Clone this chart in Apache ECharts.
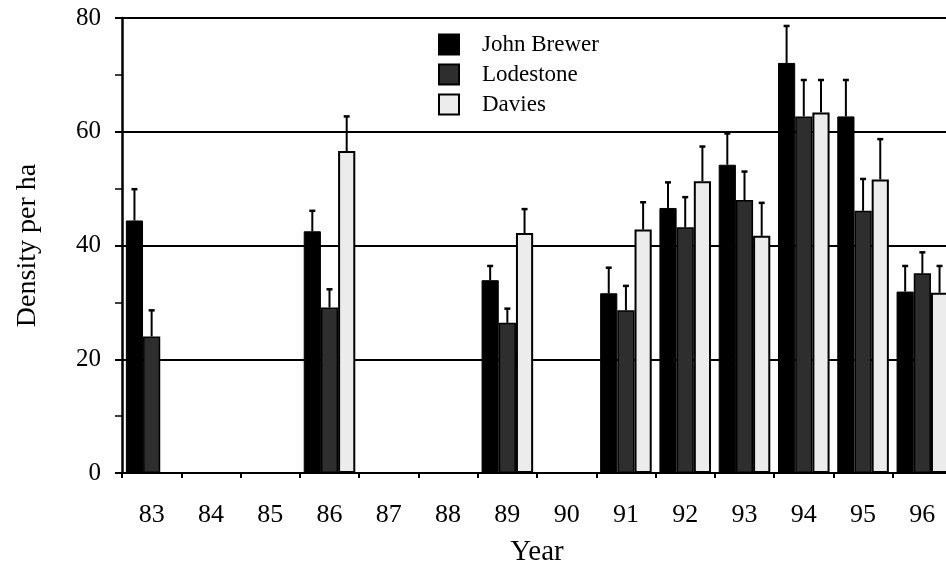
<!DOCTYPE html>
<html>
<head>
<meta charset="utf-8">
<style>
  html, body { margin: 0; padding: 0; background: #fff; }
  #chart { width: 946px; height: 567px; }
</style>
<script src="https://cdn.jsdelivr.net/npm/echarts@6/dist/echarts.min.js"></script>
</head>
<body>
<div id="chart"></div>
<script>
// 数据
var years = ['83', '84', '85', '86', '87', '88', '89', '90', '91', '92', '93', '94', '95', '96'];
var seriesNames = ['John Brewer', 'Lodestone', 'Davies'];

var brewer      = [44.4, null, null, 42.5, null, null, 33.9, null, 31.6, 46.6, 54.2, 72.1, 62.7, 31.9];
var brewerUp    = [49.9, null, null, 46.1, null, null, 36.4, null, 36.1, 51.1, 59.7, 78.6, 69.1, 36.4];
var lodestone   = [24.0, null, null, 29.1, null, null, 26.4, null, 28.6, 43.2, 48.0, 62.7, 46.1, 35.1];
var lodestoneUp = [28.6, null, null, 32.3, null, null, 28.9, null, 32.9, 48.5, 53.0, 69.1, 51.7, 38.8];
var davies      = [null, null, null, 56.6, null, null, 42.2, null, 42.8, 51.3, 41.7, 63.4, 51.6, 31.7];
var daviesUp    = [null, null, null, 62.7, null, null, 46.4, null, 47.6, 57.4, 47.5, 69.1, 58.7, 36.4];

var yTicks = [0, 20, 40, 60, 80];

var FONT = 'Liberation Serif';
var BAR_W = 0.29; // 占类目宽度比例

var myChart = echarts.init(document.getElementById('chart'));

function errData(vals, ups) {
    var out = [];
    for (var i = 0; i < vals.length; i++) {
        if (vals[i] != null && ups[i] != null) out.push([i, vals[i], ups[i]]);
    }
    return out;
}

// 误差线（只画上半部分）
function errSeries(name, vals, ups, k) {
    return {
        name: name + ' err',
        type: 'custom',
        z: 5,
        silent: true,
        data: errData(vals, ups),
        encode: { x: 0, y: [1, 2] },
        renderItem: function (params, api) {
            var bw = api.size([1, 0])[0] * BAR_W;
            var p0 = api.coord([api.value(0), api.value(1)]);
            var p1 = api.coord([api.value(0), api.value(2)]);
            var x = p0[0] + (k - 1) * bw;
            return {
                type: 'group',
                children: [
                    { type: 'line', shape: { x1: x, y1: p0[1], x2: x, y2: p1[1] },
                      style: { stroke: '#000', lineWidth: 2 } },
                    { type: 'line', shape: { x1: x - 3, y1: p1[1], x2: x + 3, y2: p1[1] },
                      style: { stroke: '#000', lineWidth: 2.5 } }
                ]
            };
        }
    };
}

var option = {
    animation: false,
    backgroundColor: '#fff',
    grid: { left: 122, right: -6, top: 18, bottom: 94, outerBoundsMode: 'none' },
    legend: {
        orient: 'vertical',
        left: 438,
        top: 33,
        padding: 0,
        itemWidth: 20,
        itemHeight: 20,
        itemGap: 7,
        icon: 'rect',
        data: seriesNames,
        textStyle: { fontFamily: FONT, fontSize: 23, color: '#000', padding: [0, 0, 0, 18] }
    },
    xAxis: {
        type: 'category',
        data: years,
        name: 'Year',
        nameLocation: 'middle',
        nameGap: 65,
        nameTextStyle: { fontFamily: FONT, fontSize: 29, color: '#000' },
        axisLine: { lineStyle: { color: '#000', width: 2 } },
        axisTick: { show: true, length: 5, lineStyle: { color: '#000', width: 2 } },
        axisLabel: { fontFamily: FONT, fontSize: 26, color: '#000', margin: 29 }
    },
    yAxis: {
        type: 'value',
        min: 0,
        max: 80,
        interval: 20,
        name: 'Density per ha',
        nameLocation: 'middle',
        nameRotate: 90,
        nameGap: 80,
        nameTextStyle: { fontFamily: FONT, fontSize: 28, color: '#000' },
        axisLine: { show: true, lineStyle: { color: '#000', width: 2.5 } },
        axisTick: { show: true, length: 7, lineStyle: { color: '#000', width: 2 } },
        minorTick: { show: true, splitNumber: 2, length: 7, lineStyle: { color: '#000', width: 1.5 } },
        axisLabel: {
            fontFamily: FONT, fontSize: 25, color: '#000', margin: 21,
            formatter: function (v) { return yTicks.indexOf(v) >= 0 ? v : ''; }
        },
        splitLine: { show: true, lineStyle: { color: '#000', width: 1.8 } }
    },
    series: [
        {
            name: seriesNames[0], type: 'bar', data: brewer,
            barWidth: (BAR_W * 100) + '%', barGap: '0%',
            itemStyle: { color: '#000', borderColor: '#000', borderWidth: 1 }
        },
        {
            name: seriesNames[1], type: 'bar', data: lodestone,
            barWidth: (BAR_W * 100) + '%', barGap: '0%',
            itemStyle: { color: '#2e2e2e', borderColor: '#000', borderWidth: 1.5 }
        },
        {
            name: seriesNames[2], type: 'bar', data: davies,
            barWidth: (BAR_W * 100) + '%', barGap: '0%',
            itemStyle: { color: '#ececec', borderColor: '#000', borderWidth: 2 }
        },
        errSeries(seriesNames[0], brewer, brewerUp, 0),
        errSeries(seriesNames[1], lodestone, lodestoneUp, 1),
        errSeries(seriesNames[2], davies, daviesUp, 2)
    ]
};

myChart.setOption(option);
</script>
</body>
</html>
